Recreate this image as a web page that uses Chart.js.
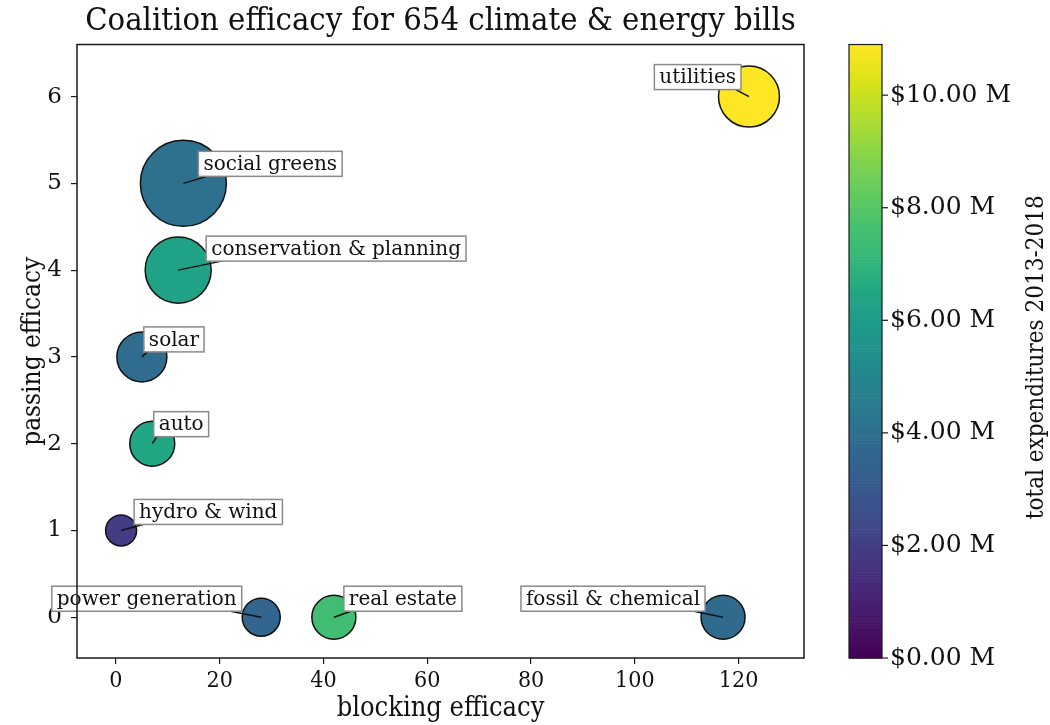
<!DOCTYPE html>
<html><head><meta charset="utf-8">
<script src="https://cdn.jsdelivr.net/npm/chart.js@4.4.1/dist/chart.umd.min.js"></script>
<style>html,body{margin:0;padding:0;background:#fff;}canvas{display:block;}</style>
</head><body>
<canvas id="c" width="1050" height="725"></canvas>
<script>
// ---- data ----
const categories = ['utilities','social greens','conservation & planning','solar','auto','hydro & wind','power generation','real estate','fossil & chemical'];
const blockingEfficacy = [122, 13, 12, 5, 7, 1, 28, 42, 117];
const passingEfficacy = [6, 5, 4, 3, 2, 1, 0, 0, 0];
const expendituresM = [10.9, 4.1, 6.3, 3.9, 6.5, 1.95, 3.6, 7.5, 3.85];
const markerArea = [930, 1850, 1090, 625, 506, 240, 361, 484, 484];
const xTickValues = [0, 20, 40, 60, 80, 100, 120];
const yTickValues = [0, 1, 2, 3, 4, 5, 6];
const colorbarTickValues = [0, 2, 4, 6, 8, 10];
const titleText = 'Coalition efficacy for 654 climate & energy bills';
const xLabelText = 'blocking efficacy';
const yLabelText = 'passing efficacy';
const cbLabelText = 'total expenditures 2013-2018';

// ---- layout / style (not data) ----
const labelLayout = [
  {dx: -8, dy: -7, side: 'left'},
  {dx: 15, dy: -7, side: 'right'},
  {dx: 28, dy: -9, side: 'right'},
  {dx: 2, dy: -5, side: 'right'},
  {dx: 1.5, dy: -7, side: 'right'},
  {dx: 13, dy: -6, side: 'right'},
  {dx: -19.5, dy: -6, side: 'left'},
  {dx: 10, dy: -6, side: 'right'},
  {dx: -18, dy: -6, side: 'left'}
];
const SERIF = '"DejaVu Serif", "Liberation Serif", serif';
const SERIF_C = '"DejaVu Serif Condensed", "DejaVu Serif", serif';
const AX = '#1a1a1a';

const viridisStops = ['#440154','#471365','#482475','#46337f','#414487','#3b528b','#355f8d','#306a8e','#2a788e','#25848e','#21918c','#1e9b8a','#22a884','#35b779','#44bf70','#5ec962','#7ad151','#9bd93c','#bddf26','#dfe318','#fde725'];
function hex2rgb(h){return [parseInt(h.slice(1,3),16),parseInt(h.slice(3,5),16),parseInt(h.slice(5,7),16)];}
function viridis(t){
  t = Math.max(0, Math.min(1, t));
  const n = viridisStops.length - 1, f = t * n, i = Math.min(n - 1, Math.floor(f)), u = f - i;
  const a = hex2rgb(viridisStops[i]), b = hex2rgb(viridisStops[i + 1]);
  return 'rgb(' + a.map((v, k) => Math.round(v + (b[k] - v) * u)).join(',') + ')';
}
const CB_MAX = Math.max(...expendituresM);

const points = categories.map((c, i) => ({x: blockingEfficacy[i], y: passingEfficacy[i], r: Math.sqrt(markerArea[i])}));
const colors = expendituresM.map(v => viridis(v / CB_MAX));

const frameAndDecor = {
  id: 'frameAndDecor',
  afterDatasetsDraw(chart) {
    const ctx = chart.ctx, a = chart.chartArea, xs = chart.scales.x, ys = chart.scales.y, cb = chart.scales.cb;
    ctx.save();
    // annotations
    ctx.font = '20px ' + SERIF;
    ctx.textBaseline = 'middle';
    categories.forEach((name, i) => {
      const px = xs.getPixelForValue(blockingEfficacy[i]);
      const py = ys.getPixelForValue(passingEfficacy[i]);
      const L = labelLayout[i];
      const tw = ctx.measureText(name).width;
      const padX = 5, h = 25, w = tw + 2 * padX;
      const bottom = py + L.dy;
      const left = L.side === 'right' ? px + L.dx : px + L.dx - w;
      const endX = L.side === 'right' ? left + 0.06 * w : left + w - 0.06 * w;
      ctx.strokeStyle = '#111'; ctx.lineWidth = 1.5;
      ctx.beginPath(); ctx.moveTo(px, py); ctx.lineTo(endX, bottom); ctx.stroke();
      ctx.fillStyle = '#fff';
      ctx.fillRect(left, bottom - h, w, h);
      ctx.strokeStyle = '#8a8a8a'; ctx.lineWidth = 1.5;
      ctx.strokeRect(left, bottom - h, w, h);
      ctx.fillStyle = '#111';
      ctx.textAlign = 'left';
      ctx.fillText(name, left + padX, bottom - h / 2 + 1);
    });
    // frame
    ctx.strokeStyle = AX; ctx.lineWidth = 1.5;
    ctx.strokeRect(a.left, a.top, a.right - a.left, a.bottom - a.top);
    // colorbar
    const cbL = 849, cbR = 882, top = cb.getPixelForValue(CB_MAX), bot = cb.getPixelForValue(0);
    const steps = 200;
    for (let k = 0; k < steps; k++) {
      const y0 = bot - (bot - top) * k / steps, y1 = bot - (bot - top) * (k + 1) / steps;
      ctx.fillStyle = viridis((k + 0.5) / steps);
      ctx.fillRect(cbL, y1, cbR - cbL, y0 - y1 + 0.6);
    }
    ctx.strokeStyle = AX; ctx.lineWidth = 1.2;
    ctx.strokeRect(cbL, top, cbR - cbL, bot - top);
    colorbarTickValues.forEach(v => {
      const y = cb.getPixelForValue(v);
      ctx.beginPath(); ctx.moveTo(cbR, y); ctx.lineTo(cbR + 6, y); ctx.stroke();
    });
    // titles
    ctx.fillStyle = '#111';
    ctx.textAlign = 'center'; ctx.textBaseline = 'middle';
    ctx.font = '32.5px ' + SERIF_C;
    ctx.fillText(titleText, (a.left + a.right) / 2, 22);
    ctx.font = '27px ' + SERIF_C;
    ctx.fillText(xLabelText, (a.left + a.right) / 2, 709);
    ctx.font = '26px ' + SERIF_C;
    ctx.save(); ctx.translate(33, (a.top + a.bottom) / 2); ctx.rotate(-Math.PI / 2);
    ctx.fillText(yLabelText, 0, 0); ctx.restore();
    ctx.font = '24px ' + SERIF_C;
    ctx.save(); ctx.translate(1037, (top + bot) / 2 + 6); ctx.rotate(-Math.PI / 2);
    ctx.fillText(cbLabelText, 0, 0); ctx.restore();
    ctx.restore();
  }
};

function noPad(s) { s.paddingTop = 0; s.paddingBottom = 0; }

new Chart(document.getElementById('c'), {
  type: 'bubble',
  data: {
    datasets: [{
      data: points,
      backgroundColor: colors,
      borderColor: '#111',
      borderWidth: 1.5,
      hoverBorderWidth: 1.5,
      clip: false
    }]
  },
  options: {
    responsive: false,
    animation: false,
    devicePixelRatio: 1,
    layout: {padding: {top: 43, left: 0, right: 0, bottom: 0}},
    plugins: {legend: {display: false}, tooltip: {enabled: false}, title: {display: false}},
    scales: {
      x: {
        type: 'linear', position: 'bottom', min: -7.5, max: 132.6,
        afterBuildTicks: s => { s.ticks = xTickValues.map(v => ({value: v})); },
        afterFit: s => { s.height = 67; s.paddingLeft = 0; s.paddingRight = 0; },
        grid: {display: true, drawOnChartArea: false, drawTicks: true, tickLength: 6, color: AX, lineWidth: 1.2},
        border: {display: false},
        ticks: {color: '#111', padding: 3, font: {family: SERIF_C, size: 23}, maxRotation: 0}
      },
      y: {
        type: 'linear', position: 'left', min: -0.47, max: 6.6,
        afterBuildTicks: s => { s.ticks = yTickValues.map(v => ({value: v})); },
        afterFit: s => { s.width = 77; noPad(s); },
        grid: {display: true, drawOnChartArea: false, drawTicks: true, tickLength: 6, color: AX, lineWidth: 1.2},
        border: {display: false},
        ticks: {color: '#111', padding: 9, font: {family: SERIF, size: 23}}
      },
      cb: {
        type: 'linear', axis: 'y', position: 'right', min: 0, max: CB_MAX,
        afterBuildTicks: s => { s.ticks = colorbarTickValues.map(v => ({value: v})); },
        afterFit: s => { s.width = 246; noPad(s); },
        grid: {display: false, drawTicks: false},
        border: {display: false},
        ticks: {color: '#111', padding: 86, font: {family: SERIF, size: 25},
          callback: v => '$' + Number(v).toFixed(2) + ' M'}
      }
    }
  },
  plugins: [frameAndDecor]
});
</script>
</body></html>
